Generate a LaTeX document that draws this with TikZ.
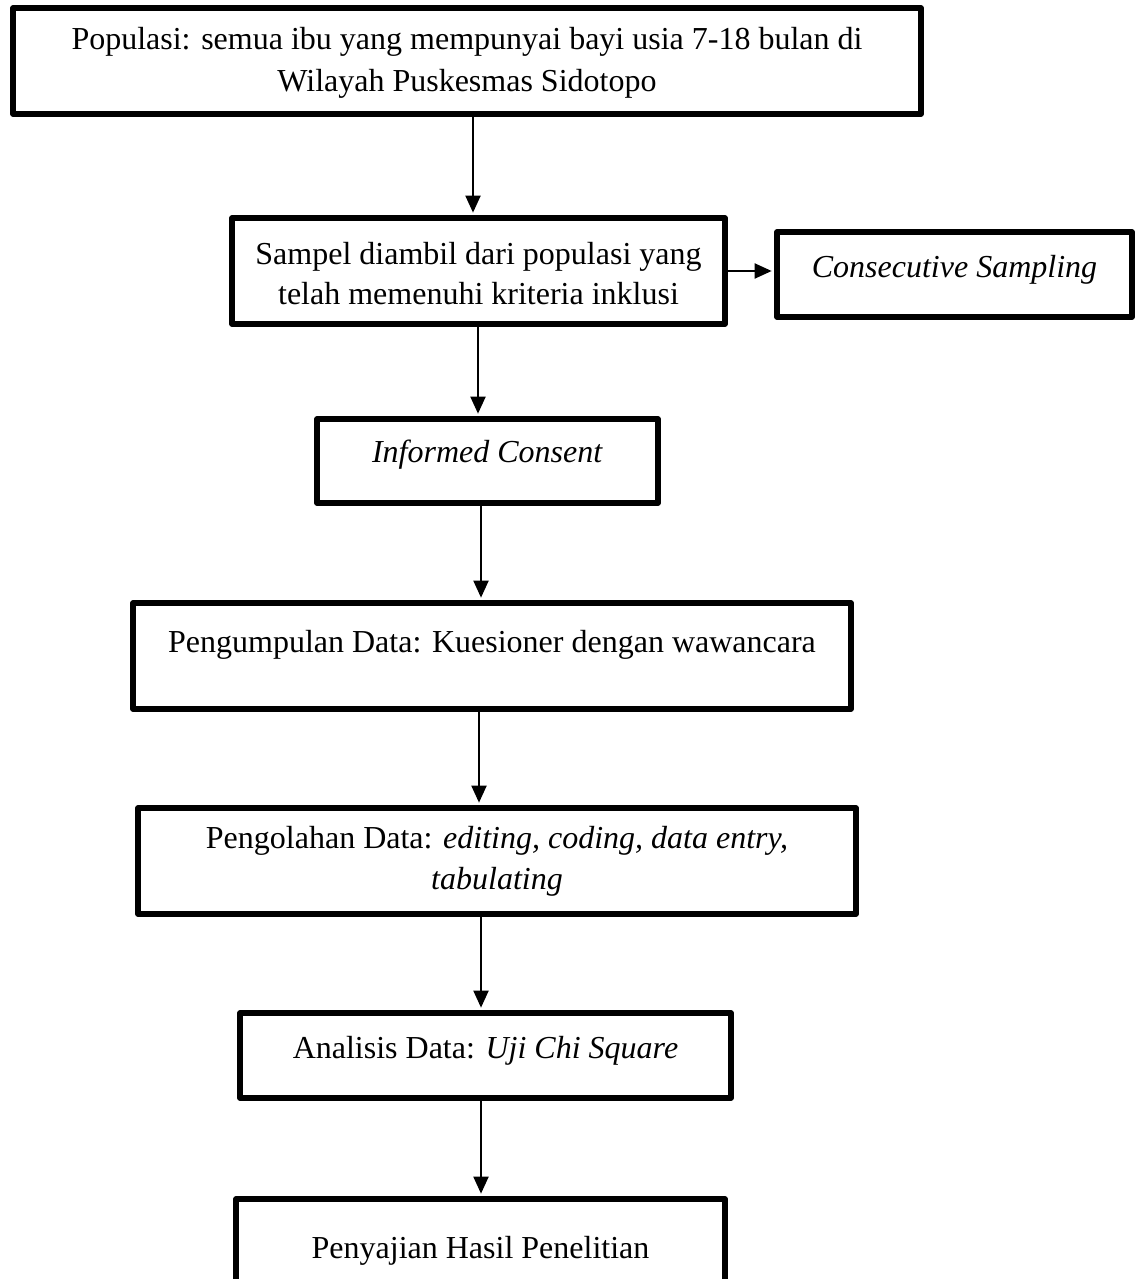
\documentclass[tikz,border=0pt]{standalone}
\usepackage{fontspec}
\setmainfont{Liberation Serif}
\usetikzlibrary{arrows.meta}
\begin{document}
\begin{tikzpicture}[x=0.5pt,y=-0.5pt,
  box/.style={draw, line width=2.75pt, rectangle, inner sep=0pt, line join=round},
  txt/.style={anchor=base, inner sep=0pt, font=\fontsize{16pt}{20pt}\selectfont},
  arr/.style={line width=1pt, -{Triangle[length=8.5pt,width=7.5pt]}, shorten >=1.3pt}]
\useasboundingbox (0,0) rectangle (1141,1279);
\clip (0,0) rectangle (1141,1279);
\fill[white] (0,0) rectangle (1141,1279);

\node[box, minimum width=454pt, minimum height=53pt] (b1) at (467,61) {};
\node[txt] (t1a) at (467,50) {Populasi: semua ibu yang mempunyai bayi usia 7-18 bulan di};
\node[txt] (t1b) at (467,91) {Wilayah Puskesmas Sidotopo};

\node[box, minimum width=246.5pt, minimum height=53pt] (b2) at (478.5,271) {};
\node[txt] (t2a) at (478.5,264) {Sampel diambil dari populasi yang};
\node[txt] (t2b) at (478.5,304) {telah memenuhi kriteria inklusi};

\node[box, minimum width=177.5pt, minimum height=42.5pt] (b3) at (954.5,274.5) {};
\node[txt] (t3) at (954.5,277) {\textit{Consecutive Sampling}};

\node[box, minimum width=170.5pt, minimum height=42pt] (b4) at (487.5,461) {};
\node[txt] (t4) at (487.5,462) {\textit{Informed Consent}};

\node[box, minimum width=359pt, minimum height=53pt] (b5) at (492,656) {};
\node[txt] (t5) at (492,652) {Pengumpulan Data: Kuesioner dengan wawancara};

\node[box, minimum width=359pt, minimum height=53pt] (b6) at (497,861) {};
\node[txt] (t6a) at (497,848) {Pengolahan Data: \textit{editing, coding, data entry,}};
\node[txt] (t6b) at (497,889) {\textit{tabulating}};

\node[box, minimum width=245.5pt, minimum height=42.5pt] (b7) at (485.5,1055.5) {};
\node[txt] (t7) at (485.5,1058) {Analisis Data: \textit{Uji Chi Square}};

\node[box, minimum width=244.5pt, minimum height=50.5pt] (b8) at (480.5,1249.5) {};
\node[txt] (t8) at (480.5,1258) {Penyajian Hasil Penelitian};

\coordinate (xa) at (473,0);
\coordinate (xb) at (478,0);
\coordinate (xc) at (481,0);
\coordinate (xd) at (479,0);
\coordinate (xe) at (481,0);
\coordinate (xf) at (481,0);

\draw[arr] (b1.south -| xa) -- (b2.north -| xa);
\draw[arr] (b2.east) -- (b2.east -| b3.west);
\draw[arr] (b2.south -| xb) -- (b4.north -| xb);
\draw[arr] (b4.south -| xc) -- (b5.north -| xc);
\draw[arr] (b5.south -| xd) -- (b6.north -| xd);
\draw[arr] (b6.south -| xe) -- (b7.north -| xe);
\draw[arr] (b7.south -| xf) -- (b8.north -| xf);
\end{tikzpicture}
\end{document}
